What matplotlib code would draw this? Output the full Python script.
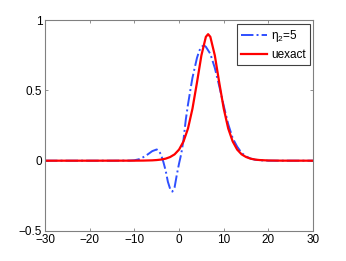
import matplotlib
matplotlib.use("Agg")
import matplotlib.pyplot as plt

plt.rcParams['font.family'] = ['Liberation Sans', 'DejaVu Sans']
plt.rcParams['mathtext.fontset'] = 'custom'
plt.rcParams['mathtext.rm'] = 'Liberation Sans'
plt.rcParams['mathtext.it'] = 'Liberation Sans'

# numerical solution (eta_2 = 5)
x_num = [-30, -15, -11, -10, -9, -8, -7, -6, -5, -4.5, -4, -3.5, -3, -2.5, -2, -1.5,
         -1, -0.5, 0, 0.5, 1, 1.5, 2, 2.66, 3, 4, 4.5, 5, 5.6, 6, 7, 8, 9, 10,
         11, 12, 13, 14, 15, 16, 17, 18, 20, 30]
u_num = [0, 0, 0.001, 0.003, 0.01, 0.025, 0.045, 0.068, 0.08, 0.07, 0.04, -0.01, -0.07,
         -0.15, -0.20, -0.22, -0.19, -0.10, -0.02, 0.05, 0.15, 0.29, 0.40, 0.527, 0.59,
         0.73, 0.78, 0.81, 0.82, 0.81, 0.76, 0.66, 0.53, 0.39, 0.26, 0.16, 0.10, 0.055,
         0.03, 0.015, 0.007, 0.003, 0, 0]

# exact solution
x_ex = [-30, -20, -10, -8, -6, -5, -4, -3, -2, -1, 0, 1, 2, 3, 4, 5, 6, 6.5, 7, 8, 9,
        10, 11, 12, 13, 14, 15, 16, 17, 18, 20, 23, 30]
u_ex = [0, 0, 0.0003, 0.0008, 0.0025, 0.0046, 0.0081, 0.0145, 0.026, 0.045, 0.079,
        0.137, 0.229, 0.370, 0.554, 0.749, 0.881, 0.90, 0.881, 0.749, 0.554, 0.370,
        0.229, 0.137, 0.079, 0.045, 0.026, 0.0145, 0.0081, 0.0046, 0.0014, 0.0002, 0]

xticks = [-30, -20, -10, 0, 10, 20, 30]
yticks = [-0.5, 0, 0.5, 1]

fig = plt.figure(figsize=(3.46, 2.61), dpi=100)
ax = fig.add_axes([0.130, 0.115, 0.775, 0.808])
ax.plot(x_num, u_num, linestyle='-.', color='#2f4fff', lw=1.4, label=r'$\eta_2$=5')
ax.plot(x_ex, u_ex, linestyle='-', color='#ff0000', lw=1.6, label='uexact')
ax.set_xlim(-30, 30)
ax.set_ylim(-0.5, 1)
ax.set_xticks(xticks)
ax.set_yticks(yticks)
ax.set_xticklabels(['\u221230', '\u221220', '\u221210', '0', '10', '20', '30'])
ax.set_yticklabels(['\u22120.5', '0', '0.5', '1'])
ax.tick_params(direction='in', top=True, right=True, labelsize=8.5, length=2.5,
               color='#808080', width=0.6, pad=2)
for s in ax.spines.values():
    s.set_color('#808080')
    s.set_linewidth(0.8)
leg = ax.legend(loc='upper right', fontsize=8.5, fancybox=False, framealpha=1,
                edgecolor='#404040', handlelength=2.2, borderpad=0.35,
                labelspacing=0.45, handletextpad=0.3, borderaxespad=0.3)
leg.get_frame().set_linewidth(0.8)
fig.savefig('out.png', dpi=100)
